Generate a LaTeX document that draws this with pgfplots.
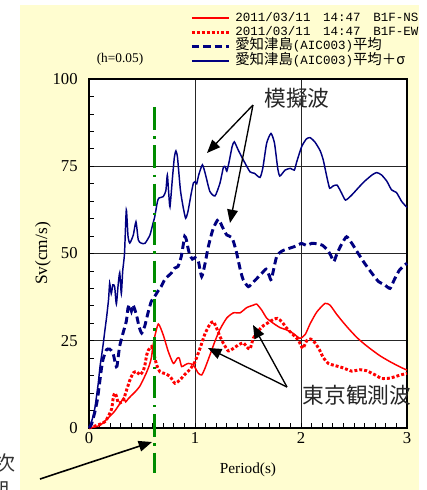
\documentclass[border=0pt]{standalone}
\usepackage{pgfplots}
\pgfplotsset{compat=1.18}
\usepackage{pgfplotstable}
\usepackage{fontspec}
\setmainfont{Liberation Serif}
\newfontfamily\monof{Liberation Mono}
\newfontfamily\cjk{Noto Sans CJK JP}
\usetikzlibrary{arrows.meta}
\definecolor{bgyellow}{RGB}{255,253,208}
\definecolor{navy}{RGB}{0,0,128}
\definecolor{dgreen}{RGB}{0,140,0}
\newcommand\lm{\monof\fontsize{9.4}{10}\selectfont}
\newcommand\lj{\cjk\fontsize{10.8}{10}\selectfont}
\newcommand\gap{\hspace{9.48pt}}

% 2011/03/11 14:47 B1F-NS
\pgfplotstableread{
x y
0 0
0.10 0.7
0.164 2.4
0.211 3.8
0.242 4.8
0.274 6.2
0.305 7.6
0.327 8.6
0.346 7.5
0.368 8.3
0.40 9.3
0.44 10.5
0.478 11.9
0.509 13.7
0.541 15.8
0.566 17.7
0.588 20.1
0.613 25.2
0.654 29.8
0.701 26.6
0.748 21.9
0.796 18.5
0.833 20.0
0.852 20.0
0.874 17.6
0.906 18.1
0.937 18.5
0.984 18.1
1.031 15.7
1.063 15.2
1.094 17.1
1.142 21.0
1.19 25.0
1.236 28.3
1.299 31.5
1.362 33.0
1.425 33.0
1.488 34.5
1.55 35.2
1.582 35.5
1.629 33.8
1.676 31.5
1.739 30.0
1.80 28.8
1.865 28.1
1.927 27.1
1.99 25.7
2.04 26.8
2.085 29.8
2.148 33.2
2.226 35.7
2.274 35.2
2.336 32.6
2.40 30.2
2.46 28.1
2.525 26.0
2.588 24.3
2.65 22.8
2.745 20.7
2.84 19.0
2.934 17.5
3.0 16.6
}\tblNS

% 2011/03/11 14:47 B1F-EW
\pgfplotstableread{
x y
0 0
0.088 0.9
0.15 1.8
0.18 3.2
0.214 5.5
0.23 9.0
0.245 10.0
0.26 9.0
0.277 7.1
0.30 7.3
0.324 8.0
0.355 10.9
0.387 13.8
0.418 15.8
0.45 16.2
0.48 15.2
0.51 16.3
0.528 18.1
0.544 20.9
0.56 22.3
0.59 23.3
0.61 21.5
0.638 18.1
0.67 16.1
0.717 15.6
0.764 14.8
0.811 12.8
0.858 13.8
0.906 15.4
0.953 16.8
1.0 19.0
1.047 22.8
1.094 27.0
1.142 29.8
1.173 30.5
1.204 28.6
1.236 26.2
1.267 24.3
1.314 22.1
1.362 22.8
1.409 23.8
1.456 24.4
1.487 23.3
1.519 22.6
1.55 25.7
1.597 27.8
1.644 29.3
1.692 30.2
1.739 31.1
1.777 31.4
1.818 30.5
1.865 28.6
1.927 26.7
1.975 25.2
2.016 22.8
2.054 25.0
2.09 25.5
2.13 24.5
2.173 22.5
2.21 20.2
2.258 18.5
2.32 17.9
2.40 17.2
2.478 16.3
2.557 16.7
2.62 16.4
2.70 15.2
2.76 14.2
2.84 14.3
2.918 15.0
3.0 15.7
}\tblEW

% AIC003 mean
\pgfplotstableread{
x y
0 0
0.022 1.0
0.053 4.3
0.079 8.1
0.10 12.9
0.116 16.7
0.132 19.6
0.164 22.4
0.195 22.6
0.226 21.5
0.252 18.1
0.264 17.7
0.289 23.4
0.321 27.2
0.352 30.6
0.368 34.4
0.384 35.3
0.40 33.5
0.415 35.3
0.447 32.5
0.472 29.1
0.497 27.2
0.525 29.1
0.557 33.0
0.588 36.3
0.62 37.7
0.65 39.2
0.682 40.6
0.714 42.5
0.745 43.5
0.777 44.4
0.808 45.8
0.84 46.3
0.871 49.2
0.887 52.1
0.903 54.9
0.918 54.0
0.934 51.6
0.95 49.7
0.975 48.4
1.0 48.8
1.03 48.0
1.063 43.4
1.094 47.0
1.126 52.0
1.17 57.0
1.22 59.8
1.26 57.5
1.30 55.3
1.35 54.5
1.39 50.5
1.43 45.0
1.456 42.4
1.503 40.5
1.55 41.8
1.63 44.3
1.67 45.5
1.70 43.7
1.72 42.6
1.77 49.1
1.82 50.7
1.88 51.4
1.94 52.0
2.006 52.9
2.05 52.3
2.10 52.9
2.15 52.8
2.20 52.4
2.25 51.0
2.28 49.5
2.31 47.7
2.34 50.0
2.38 52.5
2.43 54.8
2.48 52.9
2.54 50.0
2.60 47.2
2.67 44.3
2.73 42.0
2.79 41.0
2.84 40.0
2.88 42.5
2.93 45.3
3.0 47.2
}\tblMean

% AIC003 mean + sigma
\pgfplotstableread{
x y
0 0
0.02 1.5
0.04 3.5
0.057 6.0
0.075 10.0
0.088 13.0
0.104 17.6
0.12 21.0
0.135 24.3
0.15 28.0
0.167 32.0
0.185 37.0
0.195 41.5
0.21 38.5
0.225 41.0
0.242 40.5
0.258 35.5
0.275 41.0
0.29 44.5
0.305 38.5
0.318 45.0
0.335 50.0
0.352 62.5
0.368 55.0
0.385 53.0
0.418 55.3
0.443 59.1
0.465 53.9
0.49 53.0
0.528 52.9
0.575 55.3
0.60 58.2
0.62 60.5
0.645 64.8
0.66 65.9
0.70 66.3
0.725 68.0
0.739 72.5
0.752 67.3
0.764 63.4
0.786 71.2
0.805 77.5
0.82 79.4
0.835 77.5
0.862 68.3
0.887 63.5
0.912 60.1
0.934 62.1
0.965 67.3
0.985 70.2
1.0 70.6
1.016 70.0
1.035 72.5
1.07 75.4
1.10 72.5
1.14 67.8
1.189 66.5
1.236 70.2
1.267 74.6
1.285 74.9
1.30 73.6
1.32 76.0
1.35 80.6
1.371 82.0
1.41 79.5
1.456 76.8
1.519 73.4
1.56 73.0
1.613 71.8
1.64 74.5
1.676 81.6
1.717 84.4
1.75 81.6
1.78 74.5
1.80 72.2
1.85 73.9
1.90 74.4
1.937 73.9
1.96 76.3
2.006 80.6
2.05 82.8
2.085 83.2
2.13 82.0
2.18 79.5
2.21 76.8
2.24 72.5
2.27 68.7
2.30 69.3
2.34 69.6
2.38 67.5
2.42 65.3
2.48 66.8
2.54 68.8
2.60 70.7
2.67 72.5
2.714 73.2
2.76 72.5
2.81 70.7
2.855 68.2
2.90 67.5
2.95 64.9
3.0 63.2
}\tblSigma

% vertical marker line
\pgfplotstableread{
x y
0.615 92
0.615 -13
}\tblMark

\begin{document}
\begin{tikzpicture}[x=0.75pt,y=-0.75pt]
\useasboundingbox (0,0) rectangle (426,490);
\fill[bgyellow] (20,5) rectangle (419,490);
\coordinate (O) at (89,428);
\begin{axis}[
  at={(O)}, anchor=south west,
  scale only axis, width=238.5pt, height=261.75pt,
  xmin=0, xmax=3, ymin=0, ymax=100,
  xtick={0,1,2,3}, ytick={0,25,50,75,100},
  minor x tick num=9, minor y tick num=4,
  tick pos=left, tick align=inside,
  major tick length=4pt, minor tick length=4pt,
  tick style={black, line width=0.6pt},
  grid=major, major grid style={black!85, line width=0.7pt},
  axis line style={black, line width=1.4pt},
  axis background/.style={fill=white},
  clip=false,
  /pgf/number format/assume math mode=true,
  ticklabel style={font=\fontsize{12.5}{13}\selectfont},
  yticklabel style={xshift=-5pt},
  xlabel={Period(s)}, ylabel={Sv(cm/s)},
  every axis x label/.style={at={(axis description cs:0.5,0)}, yshift=-31.5pt, anchor=center, font=\fontsize{11.5}{12}\selectfont},
  every axis y label/.style={at={(axis description cs:0,0.5)}, xshift=-34.5pt, anchor=center, rotate=90, font=\fontsize{13}{14}\selectfont},
  legend style={at={(axis description cs:0.318,1.196)}, anchor=north west, draw=none, fill=none,
    inner sep=0pt, row sep=0pt, column sep=3pt,
    nodes={inner sep=0.75pt, text height=7pt, text depth=2.2pt, anchor=west}},
  legend cell align=left,
  legend image code/.code={\draw[#1] (0pt,0pt) -- (27.75pt,0pt);},
]
\addplot[red, line width=1.1pt, smooth, tension=0.35] table {\tblNS};
\addlegendentry{\lm 2011/03/11\gap 14:47\gap B1F-NS}
\addplot[red, line width=2.2pt, dash pattern=on 2.2pt off 1.5pt, smooth, tension=0.35] table {\tblEW};
\addlegendentry{\lm 2011/03/11\gap 14:47\gap B1F-EW}
\addplot[navy, line width=2.2pt, dash pattern=on 5.5pt off 3pt, smooth, tension=0.35] table {\tblMean};
\addlegendentry{{\lj 愛知津島}{\lm (AIC003)}{\lj 平均}}
\addplot[navy, line width=1.1pt, smooth, tension=0.35] table {\tblSigma};
\addlegendentry{{\lj 愛知津島}{\lm (AIC003)}{\lj 平均＋σ}}
\addplot[dgreen, line width=2pt, dash pattern=on 17pt off 5pt on 1.8pt off 5pt, forget plot] table {\tblMark};
\end{axis}
\node[font=\fontsize{10}{11}\selectfont] at (120,59) {(h=0.05)};
\node[font=\cjk\fontsize{16.3}{17}\selectfont, text=black!85] at (297,98) {模擬波};
\node[font=\cjk\fontsize{16.3}{17}\selectfont, text=black!85] at (357,395) {東京観測波};
\draw[black, line width=1pt, -{Triangle[length=10pt,width=8pt]}] (253,105) -- (207,153);
\draw[black, line width=1pt, -{Triangle[length=10pt,width=8pt]}] (253,105) -- (230,223);
\draw[black, line width=1pt, -{Triangle[length=10pt,width=8pt]}] (287,387) -- (208,348);
\draw[black, line width=1pt, -{Triangle[length=10pt,width=8pt]}] (287,387) -- (253,325);
\draw[black, line width=1.2pt, -{Triangle[length=10pt,width=8pt]}] (40,479) -- (152,442);
\node[font=\cjk\fontsize{15}{15}\selectfont, text=black!80] at (5,463) {次};
\node[font=\cjk\fontsize{15}{15}\selectfont, text=black!80] at (-1,490) {期};
\end{tikzpicture}
\end{document}
